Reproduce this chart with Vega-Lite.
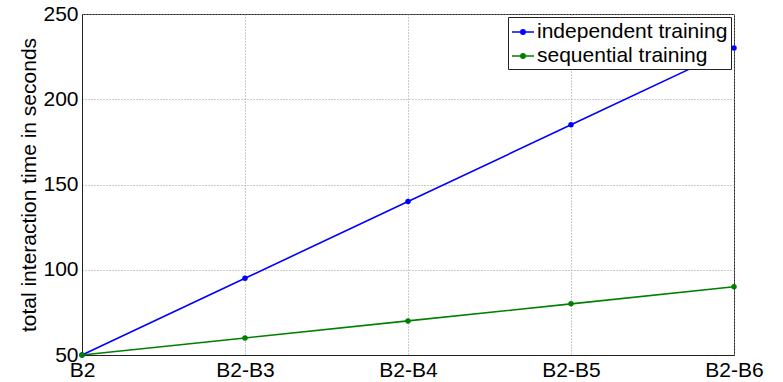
{
  "$schema": "https://vega.github.io/schema/vega-lite/v6.json",
  "width": 652,
  "height": 341,
  "autosize": {"type": "none"},
  "padding": {"left": 82, "top": 14, "right": 49, "bottom": 27},
  "background": "white",
  "config": {
    "font": "Liberation Sans",
    "view": {"stroke": "#222", "strokeWidth": 1},
    "axis": {
      "domainColor": "#222",
      "gridColor": "#999",
      "gridDash": [1, 2],
      "gridOpacity": 1,
      "labelFont": "Liberation Sans",
      "labelFontSize": 21,
      "labelColor": "#000",
      "ticks": false,
      "titleFontWeight": "normal",
      "titleColor": "#000"
    },
    "legend": {
      "labelFont": "Liberation Sans",
      "labelFontSize": 21,
      "labelColor": "#000",
      "labelLimit": 0
    }
  },
  "data": {
    "values": [
      {"step": "B2", "series": "independent training", "time": 50},
      {"step": "B2-B3", "series": "independent training", "time": 95},
      {"step": "B2-B4", "series": "independent training", "time": 140},
      {"step": "B2-B5", "series": "independent training", "time": 185},
      {"step": "B2-B6", "series": "independent training", "time": 230},
      {"step": "B2", "series": "sequential training", "time": 50},
      {"step": "B2-B3", "series": "sequential training", "time": 60},
      {"step": "B2-B4", "series": "sequential training", "time": 70},
      {"step": "B2-B5", "series": "sequential training", "time": 80},
      {"step": "B2-B6", "series": "sequential training", "time": 90}
    ]
  },
  "mark": {"type": "line", "strokeWidth": 1.6, "clip": false, "point": {"filled": true, "size": 30}},
  "encoding": {
    "x": {
      "field": "step",
      "type": "ordinal",
      "sort": ["B2", "B2-B3", "B2-B4", "B2-B5", "B2-B6"],
      "scale": {"type": "point", "padding": 0},
      "axis": {"title": null, "labelAngle": 0, "labelPadding": 4, "grid": true, "labelBaseline": "top"}
    },
    "y": {
      "field": "time",
      "type": "quantitative",
      "scale": {"domain": [50, 250], "nice": false, "zero": false},
      "axis": {
        "values": [50, 100, 150, 200, 250],
        "title": "total interaction time in seconds",
        "titleFontSize": 21,
        "titlePadding": 3,
        "labelPadding": 4,
        "grid": true
      }
    },
    "color": {
      "field": "series",
      "type": "nominal",
      "scale": {"domain": ["independent training", "sequential training"], "range": ["#0000ff", "#008000"]},
      "legend": {
        "title": null,
        "orient": "top-right",
        "offset": 3,
        "padding": 3,
        "strokeColor": "#222",
        "fillColor": "white",
        "symbolType": "M-1,0H1M-0.2,0A0.2,0.2 0 1,1 0.2,0A0.2,0.2 0 1,1 -0.2,0",
        "symbolSize": 484,
        "symbolStrokeWidth": 1.5,
        "rowPadding": 2,
        "labelOffset": 2
      }
    }
  }
}
